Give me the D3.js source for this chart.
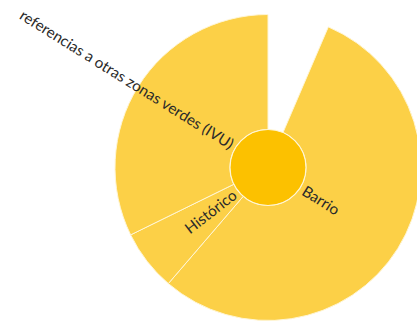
<!DOCTYPE html>
<html><head><meta charset="utf-8">
<script src="https://cdn.jsdelivr.net/npm/d3@7"></script>
<style>html,body{margin:0;padding:0;background:#fff;}svg{display:block;}</style>
</head><body>
<svg id="c" width="417" height="322"></svg>
<script>
const categories = ["Barrio", "Histórico", "referencias a otras zonas verdes (IVU)"];
const values = [17, 2, 10];
const rootOwnValue = 2; // unassigned part of the root (gap)

const W = 417, H = 322;
const cx = 268, cy = 167.5;
const rInner = 38, rOuter = 153;

const svg = d3.select("#c");
const g = svg.append("g").attr("transform", `translate(${cx},${cy})`);

const total = rootOwnValue + d3.sum(values);
const angle = d3.scaleLinear().domain([0, total]).range([0, 2 * Math.PI]);

let acc = rootOwnValue;
const slices = categories.map((c, i) => {
  const s = { name: c, value: values[i], a0: angle(acc), a1: angle(acc + values[i]) };
  acc += values[i];
  return s;
});

const arc = d3.arc().innerRadius(rInner).outerRadius(rOuter);

g.selectAll("path.slice").data(slices).join("path")
  .attr("class", "slice")
  .attr("d", d => arc({ startAngle: d.a0, endAngle: d.a1 }))
  .attr("fill", "#fcd047")
  .attr("stroke", "#fff6d6")
  .attr("stroke-width", 1);

g.append("circle").attr("r", rInner)
  .attr("fill", "#fcc100")
  .attr("stroke", "#fff6d6")
  .attr("stroke-width", 1.2);

g.selectAll("text.lbl").data(slices).join("text")
  .attr("class", "lbl")
  .attr("transform", d => {
    const m = (d.a0 + d.a1) / 2;
    const deg = m * 180 / Math.PI;
    const x = Math.sin(m) * (rInner + 4), y = -Math.cos(m) * (rInner + 4);
    const rot = deg < 180 ? deg - 90 : deg + 90;
    return `translate(${x},${y}) rotate(${rot})`;
  })
  .attr("text-anchor", d => ((d.a0 + d.a1) / 2) < Math.PI ? "start" : "end")
  .attr("dy", "0.35em")
  .attr("font-family", "Lato, 'Open Sans', sans-serif")
  .attr("font-size", 15.2)
  .attr("fill", "#2a2a2a")
  .text(d => d.name);
</script>
</body></html>
